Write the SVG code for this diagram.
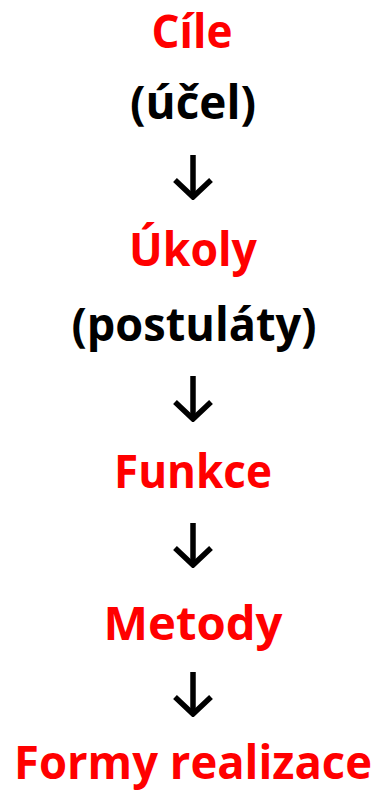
<svg xmlns="http://www.w3.org/2000/svg" width="380" height="793" viewBox="0 0 380 793">
<style>
text{font-family:"Open Sans",Lato,"Liberation Sans",sans-serif;font-weight:bold;font-size:46px;text-anchor:middle}
.r{fill:#ff0000}
.k{fill:#000000}
.a{stroke:#000;stroke-width:5.5;fill:none}
</style>
<defs>
<marker id="chev" viewBox="0 0 22 40" refX="19" refY="20" markerWidth="22" markerHeight="40" markerUnits="userSpaceOnUse" orient="auto">
<path d="M2,2 L19,20 L2,38" fill="none" stroke="#000" stroke-width="5.5"/>
</marker>
</defs>
<rect width="380" height="793" fill="#fff"/>
<g id="n-cile"><text class="r" x="192" y="48" textLength="81" lengthAdjust="spacingAndGlyphs">Cíle</text></g>
<g id="n-ucel"><text class="k" x="193" y="119" textLength="126" lengthAdjust="spacingAndGlyphs">(účel)</text></g>
<g id="n-ukoly"><text class="r" x="193" y="266" textLength="128" lengthAdjust="spacingAndGlyphs">Úkoly</text></g>
<g id="n-postulaty"><text class="k" x="194" y="341" textLength="245" lengthAdjust="spacingAndGlyphs">(postuláty)</text></g>
<g id="n-funkce"><text class="r" x="193" y="488" textLength="158" lengthAdjust="spacingAndGlyphs">Funkce</text></g>
<g id="n-metody"><text class="r" x="193" y="640" textLength="179" lengthAdjust="spacingAndGlyphs">Metody</text></g>
<g id="n-formy"><text class="r" x="193" y="779" textLength="358" lengthAdjust="spacingAndGlyphs">Formy realizace</text></g>
<g id="connectors">
<line class="a" x1="193" y1="155" x2="193" y2="197" marker-end="url(#chev)"/>
<line class="a" x1="193" y1="376" x2="193" y2="419" marker-end="url(#chev)"/>
<line class="a" x1="193" y1="523" x2="193" y2="565" marker-end="url(#chev)"/>
<line class="a" x1="193" y1="672" x2="193" y2="714" marker-end="url(#chev)"/>
</g>
</svg>
